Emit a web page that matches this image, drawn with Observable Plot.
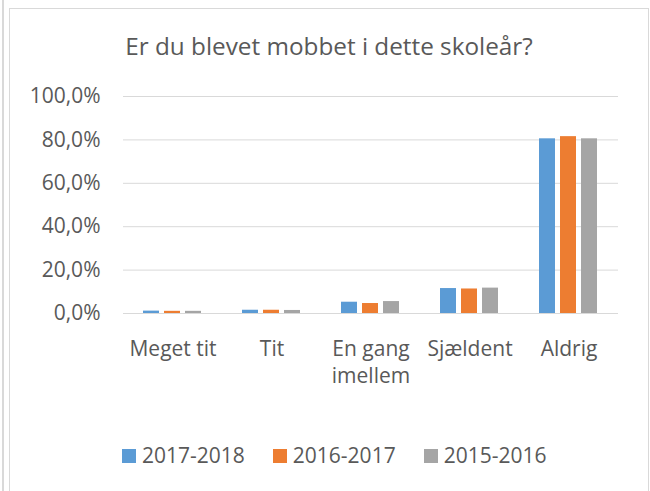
<!DOCTYPE html>
<html><head><meta charset="utf-8">
<script src="https://cdn.jsdelivr.net/npm/d3@7"></script>
<script src="https://cdn.jsdelivr.net/npm/@observablehq/plot@0.6"></script>
<style>
body{margin:0;background:#fff;font-family:"Open Sans",sans-serif;color:#595959;}
#wrap{position:relative;width:650px;height:491px;overflow:hidden;background:#fff;}
#lborder{position:absolute;left:2px;top:0;width:2px;height:491px;background:#d9d9d9;}
#box{position:absolute;left:9px;top:8px;width:640px;height:500px;border:1px solid #d9d9d9;box-sizing:border-box;}
#chart{position:absolute;left:0;top:0;}
#title{position:absolute;left:9px;width:640px;top:31px;text-align:center;font-size:24.3px;line-height:1.2;}
#legend{position:absolute;left:122px;top:441px;display:flex;gap:28px;font-size:21px;line-height:1.4;}
.item{display:flex;align-items:center;gap:6px;}
.sw{width:14px;height:14px;display:inline-block;}
</style></head>
<body>
<div id="wrap">
  <div id="lborder"></div>
  <div id="box"></div>
  <div id="chart"></div>
  <div id="title"></div>
  <div id="legend"></div>
</div>
<script>
const titleText = "Er du blevet mobbet i dette skoleår?";
const categories = ["Meget tit", "Tit", "En gang imellem", "Sjældent", "Aldrig"];
const categoryLabels = ["Meget tit", "Tit", "En gang\nimellem", "Sjældent", "Aldrig"];
const seriesNames = ["2017-2018", "2016-2017", "2015-2016"];
const values2017_2018 = [1.1, 1.5, 5.2, 11.5, 80.5];
const values2016_2017 = [1.0, 1.5, 4.6, 11.3, 81.5];
const values2015_2016 = [1.0, 1.4, 5.5, 11.7, 80.5];
const seriesColors = ["#5B9BD5", "#ED7D31", "#A5A5A5"];
const yTicks = [0, 20, 40, 60, 80, 100];

const seriesValues = [values2017_2018, values2016_2017, values2015_2016];
const rows = [];
categories.forEach((c, i) => {
  seriesNames.forEach((s, j) => rows.push({category: c, series: s, value: seriesValues[j][i]}));
});

const fmt = d => d.toFixed(1).replace(".", ",") + "%";

const chart = Plot.plot({
  width: 650,
  height: 400,
  marginLeft: 121,
  marginRight: 30,
  marginTop: 96,
  marginBottom: 87,
  style: {fontFamily: "'Open Sans', sans-serif", fontSize: "21px", color: "#595959", background: "transparent"},
  fx: {domain: categories, padding: 0, label: null},
  x: {domain: seriesNames, paddingInner: 0.23, paddingOuter: 0.88, axis: null},
  y: {domain: [0, 100], label: null},
  color: {domain: seriesNames, range: seriesColors},
  marks: [
    Plot.ruleY(yTicks, {stroke: "#d9d9d9", strokeWidth: 1}),
    Plot.barY(rows, {fx: "category", x: "series", y: "value", fill: "series"}),
    Plot.axisY({ticks: yTicks, tickSize: 0, tickPadding: 23, tickFormat: fmt, fontSize: 21, label: null}),
    Plot.axisFx({anchor: "bottom", tickSize: 0, tickPadding: 23, fontSize: 21, lineHeight: 1.3, label: null,
      tickFormat: d => categoryLabels[categories.indexOf(d)]})
  ]
});
document.getElementById("chart").appendChild(chart);
document.getElementById("title").textContent = titleText;

const legend = document.getElementById("legend");
seriesNames.forEach((s, i) => {
  const item = document.createElement("div");
  item.className = "item";
  const sw = document.createElement("span");
  sw.className = "sw";
  sw.style.background = seriesColors[i];
  const t = document.createElement("span");
  t.textContent = s;
  item.appendChild(sw);
  item.appendChild(t);
  legend.appendChild(item);
});
</script>
</body></html>
